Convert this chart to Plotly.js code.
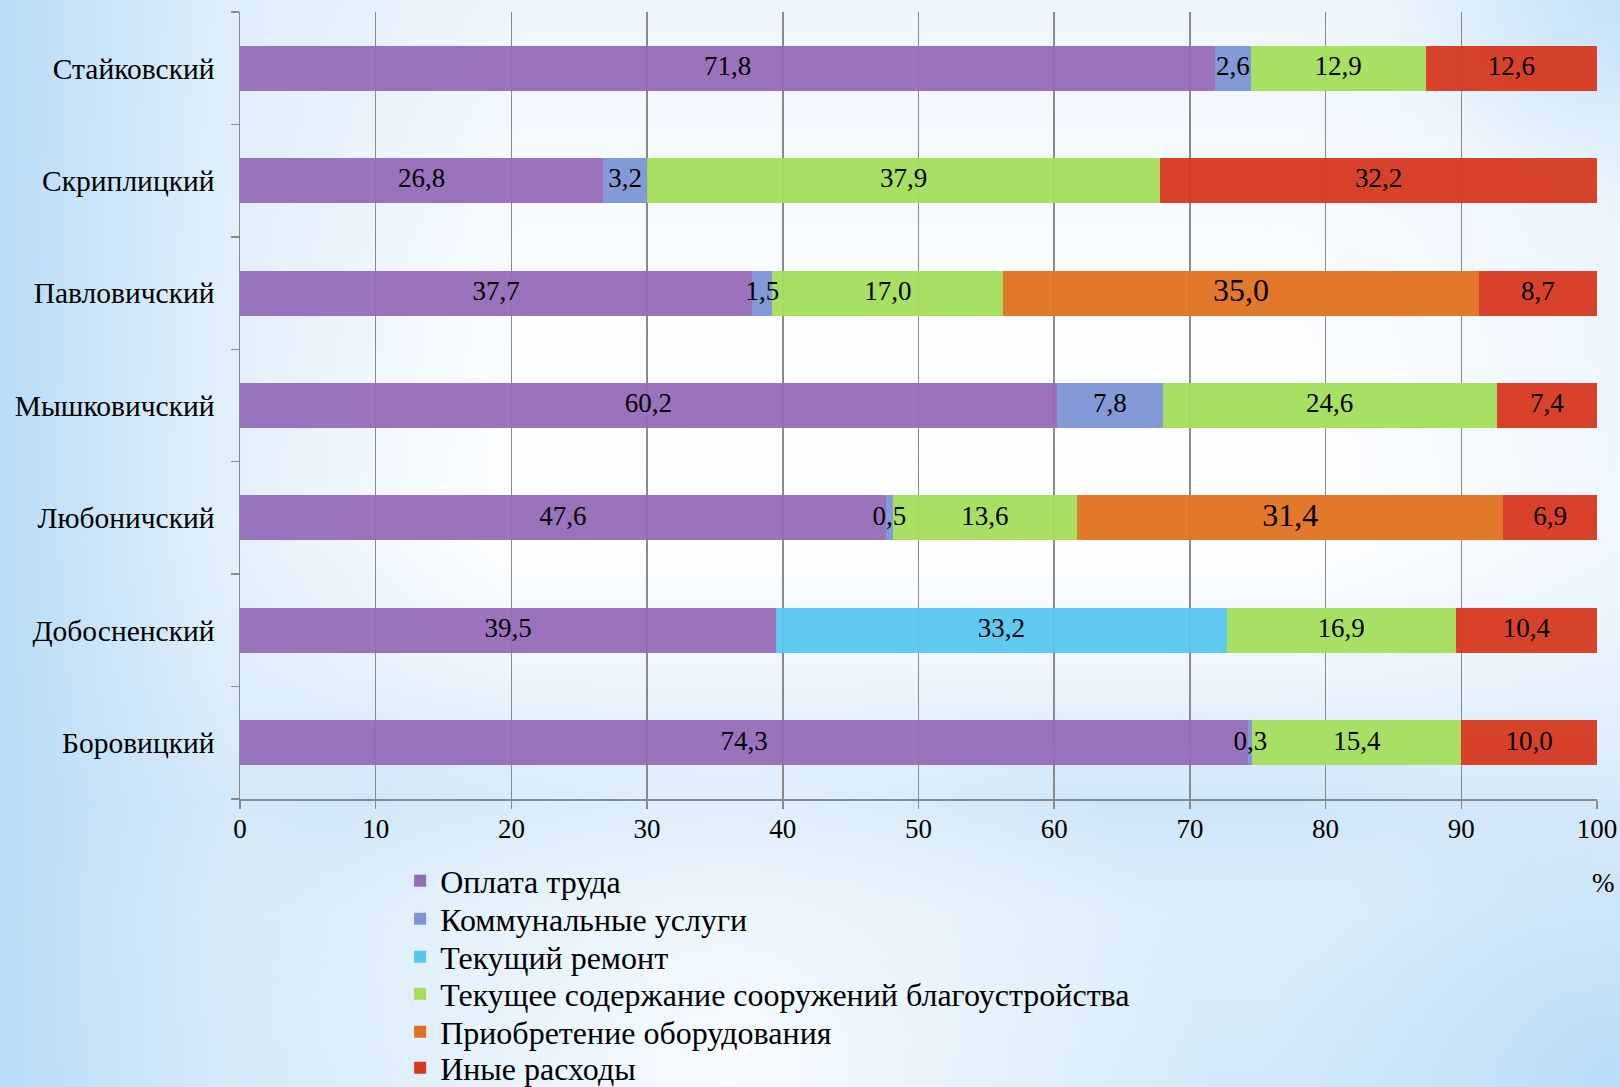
<!DOCTYPE html>
<html>
<head>
<meta charset="utf-8">
<script src="https://cdn.plot.ly/plotly-3.0.1.min.js"></script>
<style>
html,body{margin:0;padding:0;width:1620px;height:1087px;overflow:hidden;}
body{
  background:
    radial-gradient(ellipse 30% 40% at 45% 100%, rgba(255,255,255,0.85), rgba(255,255,255,0) 100%),
    radial-gradient(ellipse 14% 18% at 100% 0%, rgba(195,225,248,1), rgba(195,225,248,0) 100%),
    radial-gradient(ellipse 22% 30% at 100% 100%, rgba(185,220,247,1), rgba(185,220,247,0) 100%),
    linear-gradient(to right, rgba(185,220,247,1) 0%, rgba(215,234,250,0.7) 14%, rgba(255,255,255,0) 32%, rgba(255,255,255,0) 80%, rgba(225,238,251,0.5) 100%),
    linear-gradient(to bottom, #eef6fd 0%, #fbfdff 30%, #ffffff 50%, #eef6fd 62%, #cfe6f9 74%, #dcedfa 84%, #d3e9fa 100%);
}
#chart{width:1620px;height:1087px;}
</style>
</head>
<body>
<div id="chart"></div>
<script>
// categories bottom-to-top as drawn by Plotly
const categories = ['Боровицкий','Добосненский','Любоничский','Мышковичский','Павловичский','Скриплицкий','Стайковский'];
const seriesNames = ['Оплата труда','Коммунальные услуги','Текущий ремонт','Текущее содержание сооружений благоустройства','Приобретение оборудования','Иные расходы'];
const oplata      = [74.3, 39.5, 47.6, 60.2, 37.7, 26.8, 71.8];
const kommunal    = [0.3, null, 0.5, 7.8, 1.5, 3.2, 2.6];
const remont      = [null, 33.2, null, null, null, null, null];
const blago       = [15.4, 16.9, 13.6, 24.6, 17.0, 37.9, 12.9];
const oborud      = [null, null, 31.4, null, 35.0, null, null];
const inye        = [10.0, 10.4, 6.9, 7.4, 8.7, 32.2, 12.6];
const xTicks      = [0,10,20,30,40,50,60,70,80,90,100];

const seriesValues = [oplata, kommunal, remont, blago, oborud, inye];
const colors = ['#956bb8','#7d93d6','#56c6ee','#a3de5c','#e0711e','#d6381f'];
const labelSizes = [27,27,27,27,32,27];
const legendIds = ['legend','legend2','legend3','legend4','legend5','legend6'];

const fmt = v => v.toFixed(1).replace('.', ',');

const traces = seriesValues.map((vals, i) => ({
  type: 'bar',
  orientation: 'h',
  name: seriesNames[i],
  legend: legendIds[i],
  y: categories,
  x: vals,
  marker: {color: colors[i], opacity: 0.95, line: {width: 0}},
  hoverinfo: 'skip'
}));

// data labels centred on each (percent-normalised) segment, drawn above all bars
const lx = [], ly = [], lt = [], ls = [];
categories.forEach((cat, c) => {
  const total = seriesValues.reduce((s, arr) => s + (arr[c] || 0), 0);
  let base = 0;
  seriesValues.forEach((arr, i) => {
    const v = arr[c];
    if (v === null) return;
    lx.push((base + v / 2) * 100 / total);
    ly.push(cat);
    lt.push(fmt(v));
    ls.push(labelSizes[i]);
    base += v;
  });
});
traces.push({
  type: 'scatter',
  mode: 'text',
  x: lx, y: ly, text: lt,
  textposition: 'middle center',
  textfont: {family: 'Liberation Serif', size: ls, color: '#000'},
  showlegend: false,
  hoverinfo: 'skip',
  cliponaxis: false
});

const layout = {
  width: 1620,
  height: 1087,
  paper_bgcolor: 'rgba(0,0,0,0)',
  plot_bgcolor: 'rgba(0,0,0,0)',
  barmode: 'stack',
  barnorm: 'percent',
  bargap: 0.6,
  margin: {l: 240, r: 23, t: 12, b: 288, autoexpand: false},
  font: {family: 'Liberation Serif', color: '#000'},
  showlegend: true,
  xaxis: {
    range: [0, 100],
    tickvals: xTicks,
    ticktext: xTicks.map(String),
    showgrid: true,
    gridcolor: '#8a8a8a',
    gridwidth: 1.5,
    showline: true,
    linecolor: '#8a8a8a',
    linewidth: 1.5,
    ticks: 'outside',
    ticklen: 8,
    tickcolor: '#8a8a8a',
    tickwidth: 1.5,
    ticklabelstandoff: -3,
    tickfont: {family: 'Liberation Serif', size: 27, color: '#000'},
    zeroline: false,
    fixedrange: true
  },
  yaxis: {
    type: 'category',
    categoryorder: 'array',
    categoryarray: categories,
    showgrid: false,
    showline: true,
    linecolor: '#8a8a8a',
    linewidth: 1.5,
    ticks: 'outside',
    tickson: 'boundaries',
    ticklen: 8,
    tickcolor: '#8a8a8a',
    tickwidth: 1.5,
    ticklabelstandoff: 18,
    tickfont: {family: 'Liberation Serif', size: 29.5, color: '#000'},
    zeroline: false,
    fixedrange: true
  },
  annotations: [{
    text: '%',
    xref: 'paper', yref: 'paper',
    x: 1.005, y: -0.107,
    xanchor: 'center', yanchor: 'middle',
    showarrow: false,
    font: {family: 'Liberation Serif', size: 27, color: '#000'}
  }]
};

// one legend per series so the row spacing can follow the reference
const legendRowsPx = [881, 919, 957, 994, 1032, 1068];
legendIds.forEach((id, i) => {
  layout[id] = {
    orientation: 'v',
    xref: 'paper', yref: 'paper',
    x: 0.118, xanchor: 'left',
    y: (799 - legendRowsPx[i]) / 787, yanchor: 'middle',
    font: {family: 'Liberation Serif', size: 32, color: '#000'},
    bgcolor: 'rgba(0,0,0,0)',
    borderwidth: 0,
    itemwidth: 30
  };
});

Plotly.newPlot('chart', traces, layout, {displayModeBar: false, staticPlot: true});
</script>
</body>
</html>
